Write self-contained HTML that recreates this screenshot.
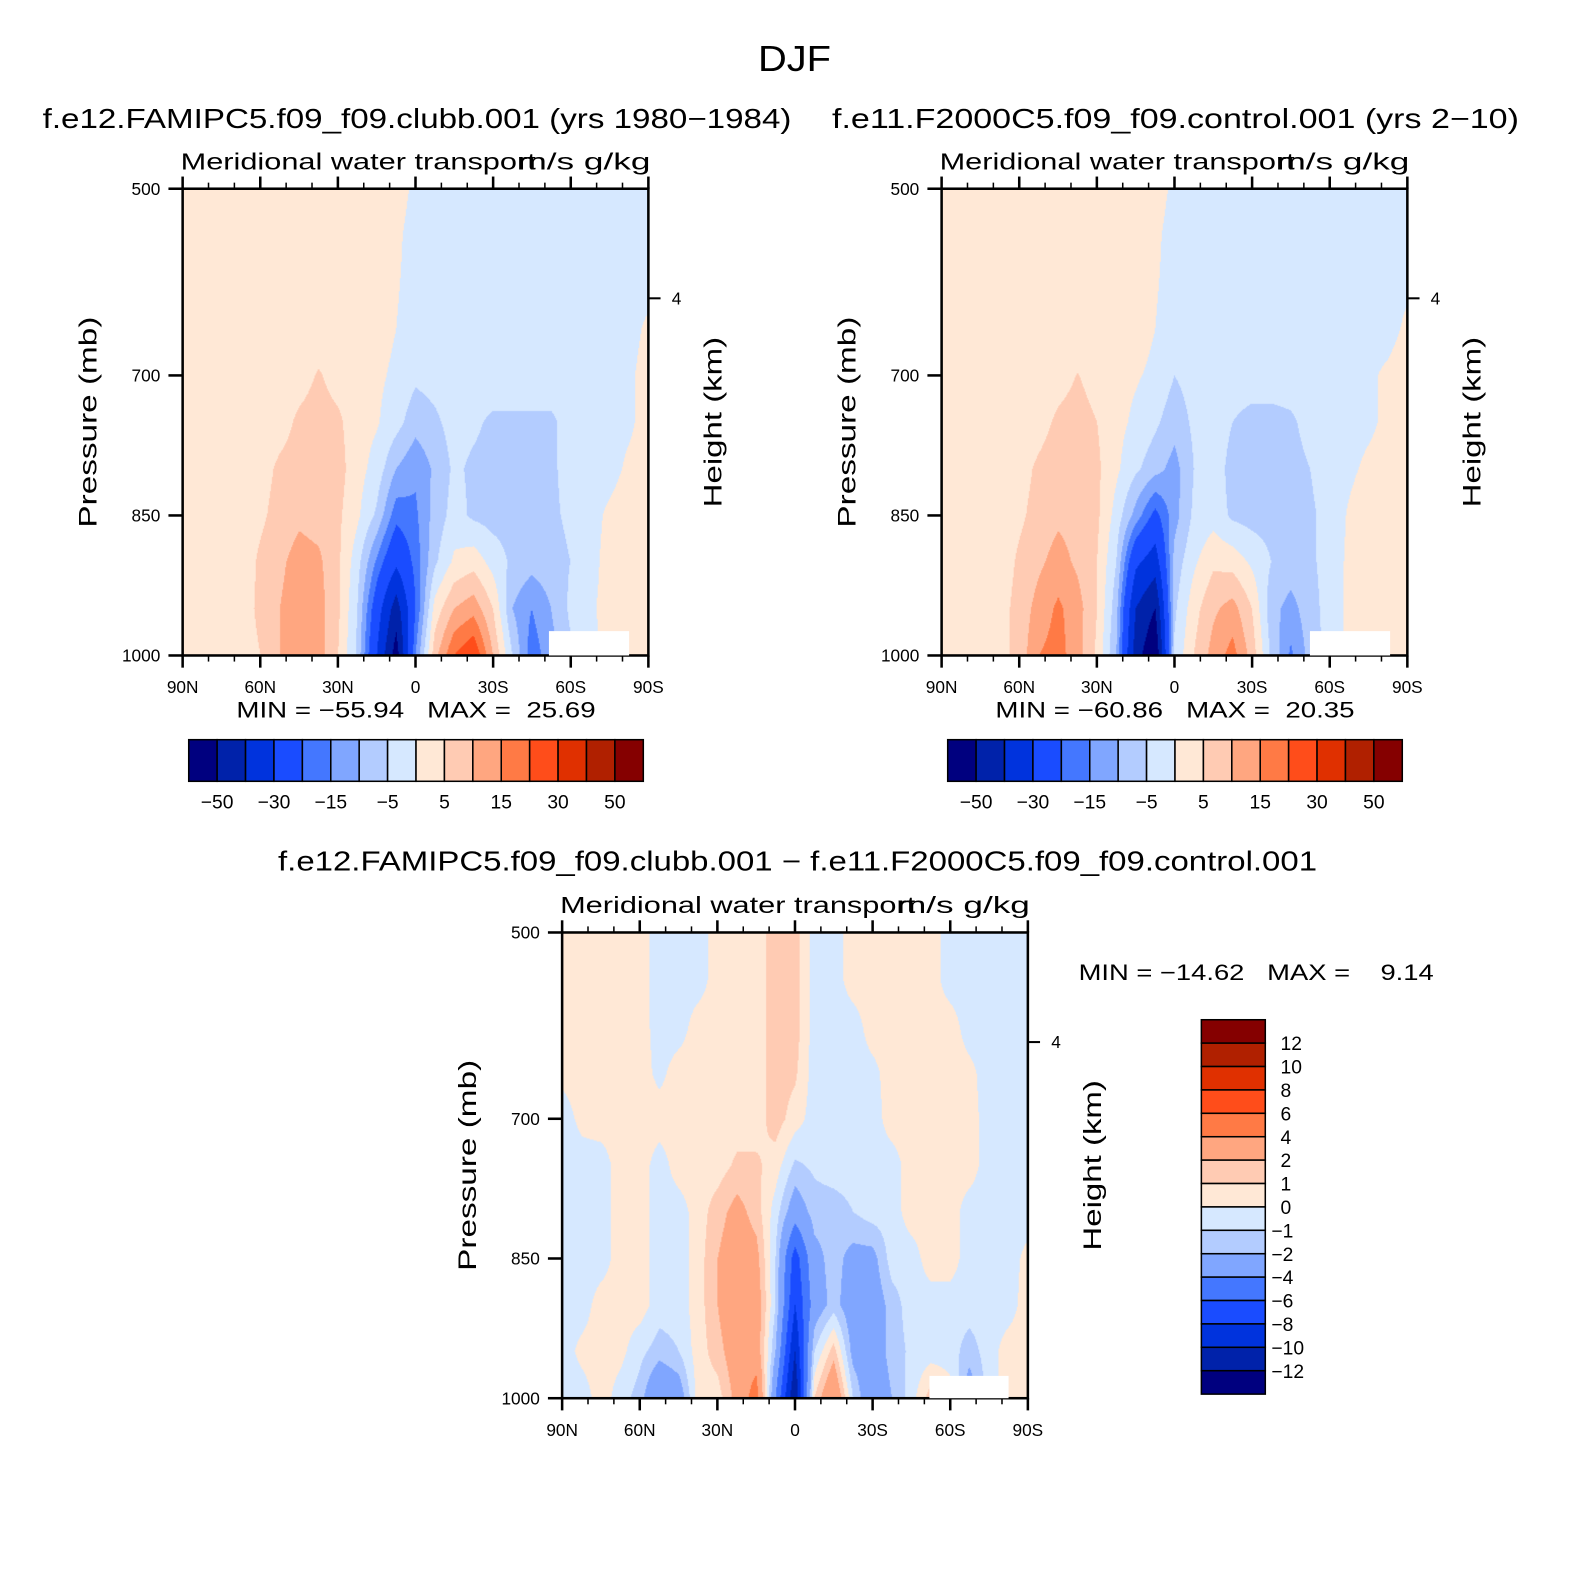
<!DOCTYPE html>
<html><head><meta charset="utf-8">
<style>
html,body{margin:0;padding:0;background:#fff;width:1591px;height:1588px;overflow:hidden}
#wrap{position:absolute;left:0;top:0;width:1568px;height:1565px;transform:scale(1.01467);transform-origin:0 0}
canvas{position:absolute}
svg{position:absolute;left:0;top:0}
text{font-family:"Liberation Sans",sans-serif;fill:#000;white-space:pre}
</style></head><body>
<div id="wrap">
<canvas id="c1" width="459" height="460" style="left:180px;top:186px"></canvas>
<canvas id="c2" width="459" height="460" style="left:928px;top:186px"></canvas>
<canvas id="c3" width="459" height="459" style="left:554px;top:919px"></canvas>
<svg id="ov" width="1568" height="1565"></svg>
</div>
<script>
// ---- data ----
const latLabels=["90N","60N","30N","0","30S","60S","90S"];
const pLabels=[500,700,850,1000];
const levelsMain=[-50,-40,-30,-20,-15,-10,-5,0,5,10,15,20,30,40,50];
const levelsDiff=[-12,-10,-8,-6,-4,-2,-1,0,1,2,4,6,8,10,12];
const mainCbLabels=["-50","-30","-15","-5","5","15","30","50"];
const diffCbLabels=["12","10","8","6","4","2","1","0","−1","−2","−4","−6","−8","−10","−12"];
const colors=["#00007f","#0022aa","#0033dd","#1a4cff","#4477ff","#80a6ff","#b3ccff","#d6e8ff","#ffe8d6","#ffcbb3","#ffa680","#ff7a45","#ff4d1a","#e03000","#b02000","#850000"];
// grids: rows = pressure 500..1000 step 50; cols = lat 90N..90S step 7.5
const field1=[
[2,2,2,2,2,2,2,2,2,2,2,2,-1,-2,-2,-2,-2,-2,-2,-2,-2,-2,-2,-2,-2],
[2,2,2,2,2,2,2,2,2,2,2,1,-2,-2,-2,-2,-2,-2,-2,-2,-2,-2,-2,-2,-2],
[2,2,2,2,2,2,2,2,2,2,2,0.5,-2,-2,-2,-2,-2,-2,-2,-2,-2,-2,-2,-2,-2],
[2,2,2,2,2,2,2,2,2,2,2,0,-2.5,-2,-2,-2,-2,-2,-2,-2,-2,-2,-2,-2,1],
[2,2,2,2,2,2,3,5.5,3,2,1,-1,-4,-3,-2,-2,-2,-2,-2,-2,-2,-2,-2,-1,2],
[2,2,2,2,2,3,6,7,6,2,0.5,-3,-8,-6,-3,-4,-6,-6,-6,-6,-3,-2,-2,-1,2],
[2,2,2,2,3,6,7,8,7,2,-2,-10,-14,-9,-4,-6,-7,-7,-7,-6,-3,-2,-2,1,2],
[2,2,2,2,4,7,9,8,6,1,-6,-18,-16,-8,-3,-6,-7,-7,-7,-6,-4,-2,1,3,3],
[2,2,2,2,6,9,12,11,6,-3,-16,-28,-18,-6,1,3,-2,-6,-8,-7,-5,-2,2,3,3],
[2,2,2,3,6,10,13,12,6,-5,-25,-45,-20,2,10,13,5,-10,-15,-10,-4,-1,2,3,3],
[2,2,2,3,5,10,13,12,5,-6,-30,-55,-15,8,20,25,10,-5,-18,-12,-6,-2,2,2,2]];
const field2=[
[2,2,2,2,2,2,2,2,2,2,2,2,-1,-2,-2,-2,-2,-2,-2,-2,-2,-2,-2,-2,-2],
[2,2,2,2,2,2,2,2,2,2,2,1,-2,-2,-2,-2,-2,-2,-2,-2,-2,-2,-2,-2,-2],
[2,2,2,2,2,2,2,2,2,2,2,0.5,-2,-2,-2,-2,-2,-2,-2,-2,-2,-2,-2,-2,-1],
[2,2,2,2,2,2,2,2,2,2,2,0,-2.5,-2,-2,-2,-2,-2,-2,-2,-2,-2,-2,-2,1],
[2,2,2,2,2,2,3,5.2,3,1.5,0.5,-1,-5,-3,-2,-2,-2,-2,-2,-2,-2,-2,-1,1,3],
[2,2,2,2,2,3,6,7,5,1.5,-1,-4,-8,-4,-2,-5,-7,-7,-6,-3,-2,-2,-1,1,3],
[2,2,2,2,3,6,8,8,6,1,-4,-8,-12,-5,-2,-7,-8,-8,-7,-5,-2,-1,1,2,3],
[2,2,2,2,4,7,9,8,6,-2,-12,-22,-12,-4,-2,-6,-7,-7,-7,-6,-3,0.5,3,3,3],
[2,2,2,2,6,9,12,9,5,-5,-28,-35,-8,-1,4,3,-1,-5,-7,-6,-3,1,3,3,3],
[2,2,2,3,7,12,16,12,5,-8,-40,-50,-6,3,9,12,5,-8,-12,-7,-3,1,2,3,3],
[2,2,2,3,7,15,17,12,4,-10,-45,-60,-4,5,12,17,8,-6,-16,-8,-3,1,2,2,2]];
const field3=[
[0.5,0.5,0.5,0.5,0.5,-0.5,-0.5,-0.5,0.5,0.5,0.5,1.5,1.5,-0.5,-0.5,0.5,0.5,0.5,0.5,0.5,-0.5,-0.5,-0.5,-0.5,-0.5],
[0.5,0.5,0.5,0.5,0.5,-0.5,-0.5,-0.5,0.5,0.5,0.5,1.5,1.5,-0.5,-0.5,0.5,0.5,0.5,0.5,0.5,-0.5,-0.5,-0.5,-0.5,-0.5],
[0.5,0.5,0.5,0.5,0.5,-0.5,-0.5,0.5,0.5,0.5,0.5,1.5,1.5,-0.5,-0.5,-0.5,0.5,0.5,0.5,0.5,0.5,-0.5,-0.5,-0.5,-0.5],
[0.3,0.5,0.5,0.5,0.5,-0.3,0.5,0.5,0.5,0.5,0.5,1.5,1.2,-0.5,-0.5,-0.5,-0.3,0.5,0.5,0.5,0.5,0.3,-0.5,-0.5,-0.5],
[-0.5,0.3,0.5,0.5,0.5,0.5,0.5,0.5,0.5,0.5,0.5,1.5,0.5,-0.5,-0.5,-0.5,-0.5,0.5,0.5,0.5,0.5,0.5,-0.5,-0.5,-0.5],
[-0.5,-0.5,-0.5,0.5,0.5,-0.5,0.5,0.5,0.5,1.2,1.2,0.5,-1.2,-0.8,-0.5,-0.5,-0.5,-0.5,0.5,0.5,0.5,0.5,-0.5,-0.5,-0.5],
[-0.5,-0.5,-0.5,0.5,0.5,-0.5,-0.5,0.5,1.5,2.5,1.5,-0.5,-3,-1.5,-1.5,-1,-0.5,-0.5,0.5,0.5,0.5,-0.5,-0.5,-0.5,-0.5],
[-0.5,-0.5,-0.5,0.5,0.5,-0.5,-0.5,0.5,2,3,2.5,-1,-7,-2.5,-1.5,-2.5,-2.5,-0.5,-0.5,0.5,0.5,-0.5,-0.5,-0.5,0.3],
[-0.5,-0.5,0.5,0.5,0.5,-0.5,-0.5,0.5,2,3.5,3,-1,-8,-3,-1.5,-3,-3,-1.5,-0.5,-0.5,-0.5,-0.5,-0.5,-0.5,0.5],
[-0.5,0.3,0.5,0.3,-0.7,-1.5,-1,0.5,1.5,3,3,-2,-10,-1,1.5,-2.5,-3,-1.5,-0.8,-0.5,-0.5,-1.5,-0.5,0.5,0.5],
[-0.5,-0.5,0.5,-0.5,-1.5,-4,-3,0.5,0.5,2.5,5,-4,-12,1,4,-1,-3.5,-2,-0.5,1.5,0.5,-3,-0.5,0.5,0.5]];

function hex(c){return [parseInt(c.slice(1,3),16),parseInt(c.slice(3,5),16),parseInt(c.slice(5,7),16)];}
const rgb=colors.map(hex);
function bin(v,lev){let k=0;while(k<lev.length&&v>=lev[k])k++;return k;}
function drawField(id,grid,lev){
  const cv=document.getElementById(id),ctx=cv.getContext('2d');
  const W=cv.width,H=cv.height,img=ctx.createImageData(W,H);
  const nc=grid[0].length-1,nr=grid.length-1;
  for(let y=0;y<H;y++){const fy=y/(H-1)*nr;let r=Math.min(Math.floor(fy),nr-1);const ty=fy-r;
    for(let x=0;x<W;x++){const fx=x/(W-1)*nc;let c=Math.min(Math.floor(fx),nc-1);const tx=fx-c;
      const v=(grid[r][c]*(1-tx)+grid[r][c+1]*tx)*(1-ty)+(grid[r+1][c]*(1-tx)+grid[r+1][c+1]*tx)*ty;
      const col=rgb[bin(v,lev)],o=(y*W+x)*4;img.data[o]=col[0];img.data[o+1]=col[1];img.data[o+2]=col[2];img.data[o+3]=255;}}
  ctx.putImageData(img,0,0);
}
drawField('c1',field1,levelsMain);
drawField('c2',field2,levelsMain);
drawField('c3',field3,levelsDiff);

const NS="http://www.w3.org/2000/svg",ov=document.getElementById('ov');
function el(tag,attrs,txt){const e=document.createElementNS(NS,tag);for(const k in attrs)e.setAttribute(k,attrs[k]);if(txt!==undefined)e.textContent=txt;ov.appendChild(e);return e;}
function T(x,y,s,txt,anchor,name,extra){const e=el('text',Object.assign({x:x,y:y,'font-size':s,'text-anchor':anchor||'start'},extra||{}),txt);


return e;}
const fit=w=>({textLength:w,lengthAdjust:"spacingAndGlyphs"});

T(783,70,36,"DJF","middle","figure-title",fit(72));
T(42,126,27,"f.e12.FAMIPC5.f09_f09.clubb.001 (yrs 1980−1984)","start","left-panel-title",fit(738));
T(820,126,27,"f.e11.F2000C5.f09_f09.control.001 (yrs 2−10)","start","right-panel-title",fit(677));
T(274,858,27,"f.e12.FAMIPC5.f09_f09.clubb.001 − f.e11.F2000C5.f09_f09.control.001","start","difference-panel-title",fit(1024));

function panel(X,Y,W,H,key,minmax,mmx,mmy,mmw){
  const xs=v=>X+(90-v)/180*W;
  const ys=p=>Y+(p-500)/500*H;
  T(X-2,Y-19,23,"Meridional water transport","start",key+"-long-name",fit(350));
  T(X+W+2,Y-19,23,"m/s g/kg","end",key+"-units",fit(131));
  const fr=el('rect',{x:X,y:Y,width:W,height:H,fill:'none',stroke:'#000','stroke-width':2.5});
  
  
  for(let v=90;v>=-90;v-=10){const x=xs(v),maj=(v%30===0),L=maj?12:6;
    el('line',{x1:x,y1:Y,x2:x,y2:Y-L,stroke:'#000','stroke-width':maj?2.5:1.5});
    el('line',{x1:x,y1:Y+H,x2:x,y2:Y+H+L,stroke:'#000','stroke-width':maj?2.5:1.5});}
  latLabels.forEach((lb,i)=>{T(xs(90-i*30),Y+H+37,17,lb,"middle",key+"-x-tick-label");});
  pLabels.forEach(p=>{el('line',{x1:X-14,y1:ys(p),x2:X,y2:ys(p),stroke:'#000','stroke-width':2.5});
    T(X-22,ys(p)+6,17,String(p),"end",key+"-y-tick-label");});
  el('line',{x1:X+W,y1:Y+108,x2:X+W+12,y2:Y+108,stroke:'#000','stroke-width':2});
  T(X+W+23,Y+114,17,"4","start",key+"-height-tick-label");
  T(0,0,25,"Pressure (mb)","middle",key+"-y-axis-title",Object.assign({transform:`translate(${X-85},${Y+H/2}) rotate(-90)`},fit(208)));
  T(0,0,25,"Height (km)","middle",key+"-height-axis-title",Object.assign({transform:`translate(${X+W+72},${Y+H/2}) rotate(-90)`},fit(168)));
  T(mmx,mmy,22,minmax,"start",key+"-min-max",fit(mmw));
}
panel(180,186,459,460,"clubb","MIN = −55.94   MAX =  25.69",233,707,354);
panel(928,186,459,460,"control","MIN = −60.86   MAX =  20.35",981,707,354);
panel(554,919,459,459,"difference","MIN = −14.62   MAX =    9.14",1063,966,350);
[[541,622,79,24],[1291,622,79,24],[916,1356,78,22]].forEach(r=>{const e=el('rect',{x:r[0],y:r[1],width:r[2],height:r[3],fill:'#fff'});

});

function hbar(X,key){const w=28;
  colors.forEach((c,i)=>{const e=el('rect',{x:X+i*w,y:729,width:w,height:41,fill:c,stroke:'#000','stroke-width':1.5});
  
  });
  mainCbLabels.forEach((lb,i)=>{T(X+w+i*2*w,797,19,lb.replace('-','−'),"middle",key+"-colorbar-label");});
}
hbar(186,"clubb");hbar(934,"control");
const vh=23.06;
colors.slice().reverse().forEach((c,i)=>{const e=el('rect',{x:1184,y:1005+i*vh,width:63,height:vh,fill:c,stroke:'#000','stroke-width':1.5});

});
diffCbLabels.forEach((lb,i)=>{T(lb.startsWith('−')?1253:1262,1005+(i+1)*vh+7,19,lb,"start","difference-colorbar-label");});
</script>
</body></html>
